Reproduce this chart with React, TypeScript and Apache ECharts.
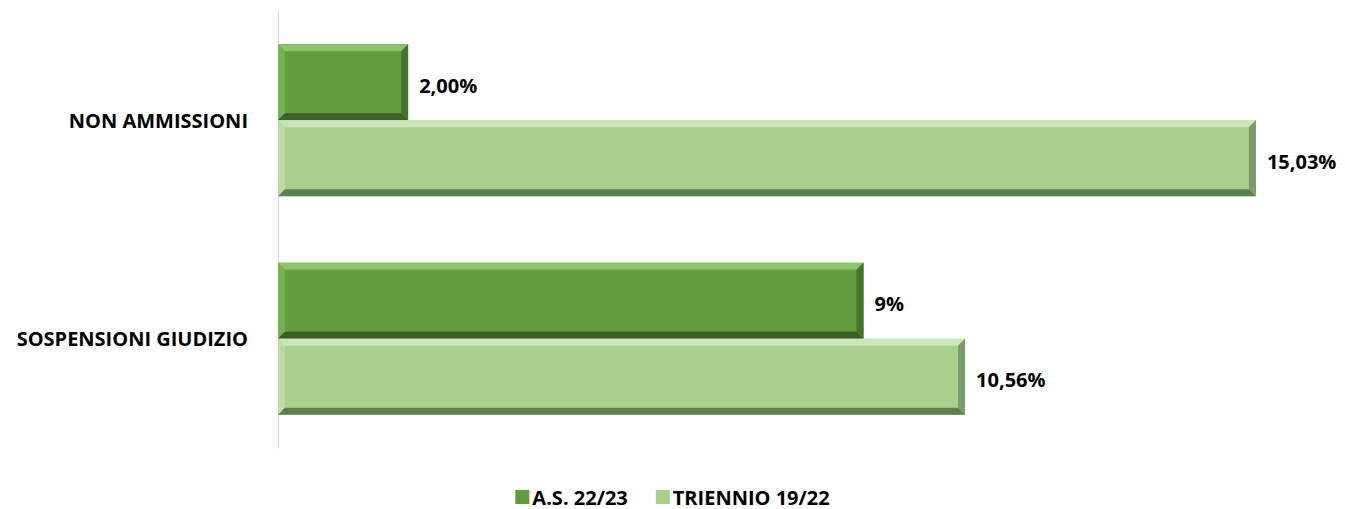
import React, { useEffect, useRef } from "react";
import * as echarts from "echarts";

const categories = ["NON AMMISSIONI", "SOSPENSIONI GIUDIZIO"];
const seriesNames = ["A.S. 22/23", "TRIENNIO 19/22"];
const valuesAS = [2.0, 9];
const valuesTriennio = [15.03, 10.56];
const labelsAS = ["2,00%", "9%"];
const labelsTriennio = ["15,03%", "10,56%"];

const palette = [
  { base: "#619c3d", light: "#8cc46a", lightSide: "#76b053", dark: "#3b5f24", darkSide: "#47742d" },
  { base: "#a8d08d", light: "#cbe6b8", lightSide: "#bcdca6", dark: "#5f7d52", darkSide: "#7c9b6c" },
];

const FONT = "'Open Sans', Lato, sans-serif";

function makeRender(seriesIdx: number, labels: string[]) {
  return (params: any, api: any) => {
    const catIdx = api.value(0);
    const val = api.value(1);
    const p0 = api.coord([0, catIdx]);
    const p1 = api.coord([val, catIdx]);
    const band = api.size([0, 1])[1];
    const barH = band * 0.348;
    const x0 = p0[0];
    const x1 = p1[0];
    const y0 = seriesIdx === 0 ? p0[1] - barH : p0[1];
    const y1 = y0 + barH;
    const b = 7;
    const c = palette[seriesIdx];
    return {
      type: "group",
      children: [
        { type: "rect", shape: { x: x0, y: y0, width: x1 - x0, height: barH }, style: { fill: c.base } },
        { type: "polygon", shape: { points: [[x0, y0], [x1, y0], [x1 - b, y0 + b], [x0 + b, y0 + b]] }, style: { fill: c.light } },
        { type: "polygon", shape: { points: [[x0, y0], [x0 + b, y0 + b], [x0 + b, y1 - b], [x0, y1]] }, style: { fill: c.lightSide } },
        { type: "polygon", shape: { points: [[x0, y1], [x0 + b, y1 - b], [x1 - b, y1 - b], [x1, y1]] }, style: { fill: c.dark } },
        { type: "polygon", shape: { points: [[x1, y0], [x1, y1], [x1 - b, y1 - b], [x1 - b, y0 + b]] }, style: { fill: c.darkSide } },
        {
          type: "text",
          x: x1 + 11,
          y: (y0 + y1) / 2 + 3,
          style: {
            text: labels[catIdx],
            fill: "#000",
            font: `bold 20px ${FONT}`,
            verticalAlign: "middle",
            align: "left",
          },
        },
      ],
    };
  };
}

export default function App() {
  const ref = useRef<HTMLDivElement>(null);
  useEffect(() => {
    const chart = echarts.init(ref.current!, undefined, { renderer: "svg" });
    chart.setOption({
      animation: false,
      backgroundColor: "#fff",
      grid: { left: 278, top: 11, width: 1041, height: 437, containLabel: false },
      xAxis: {
        type: "value",
        min: 0,
        max: 16,
        show: false,
      },
      yAxis: {
        type: "category",
        data: categories,
        inverse: true,
        axisLine: { show: true, lineStyle: { color: "#d9d9d9", width: 1 } },
        axisTick: { show: false },
        axisLabel: { color: "#000", fontWeight: "bold", fontSize: 20, fontFamily: FONT, margin: 30 },
      },
      legend: {
        bottom: -3,
        left: "center",
        itemWidth: 14,
        itemHeight: 14,
        itemGap: 28,
        icon: "rect",
        textStyle: { color: "#000", fontWeight: "bold", fontSize: 20, fontFamily: FONT, padding: [0, 0, 0, -2] },
        data: seriesNames,
      },
      series: [
        {
          name: seriesNames[0],
          type: "custom",
          renderItem: makeRender(0, labelsAS),
          itemStyle: { color: palette[0].base },
          encode: { x: 1, y: 0 },
          data: valuesAS.map((v, i) => [i, v]),
        },
        {
          name: seriesNames[1],
          type: "custom",
          renderItem: makeRender(1, labelsTriennio),
          itemStyle: { color: palette[1].base },
          encode: { x: 1, y: 0 },
          data: valuesTriennio.map((v, i) => [i, v]),
        },
      ],
    });
    return () => chart.dispose();
  }, []);
  return <div ref={ref} style={{ position: "absolute", left: 0, top: 0, width: 1345, height: 509 }} />;
}
